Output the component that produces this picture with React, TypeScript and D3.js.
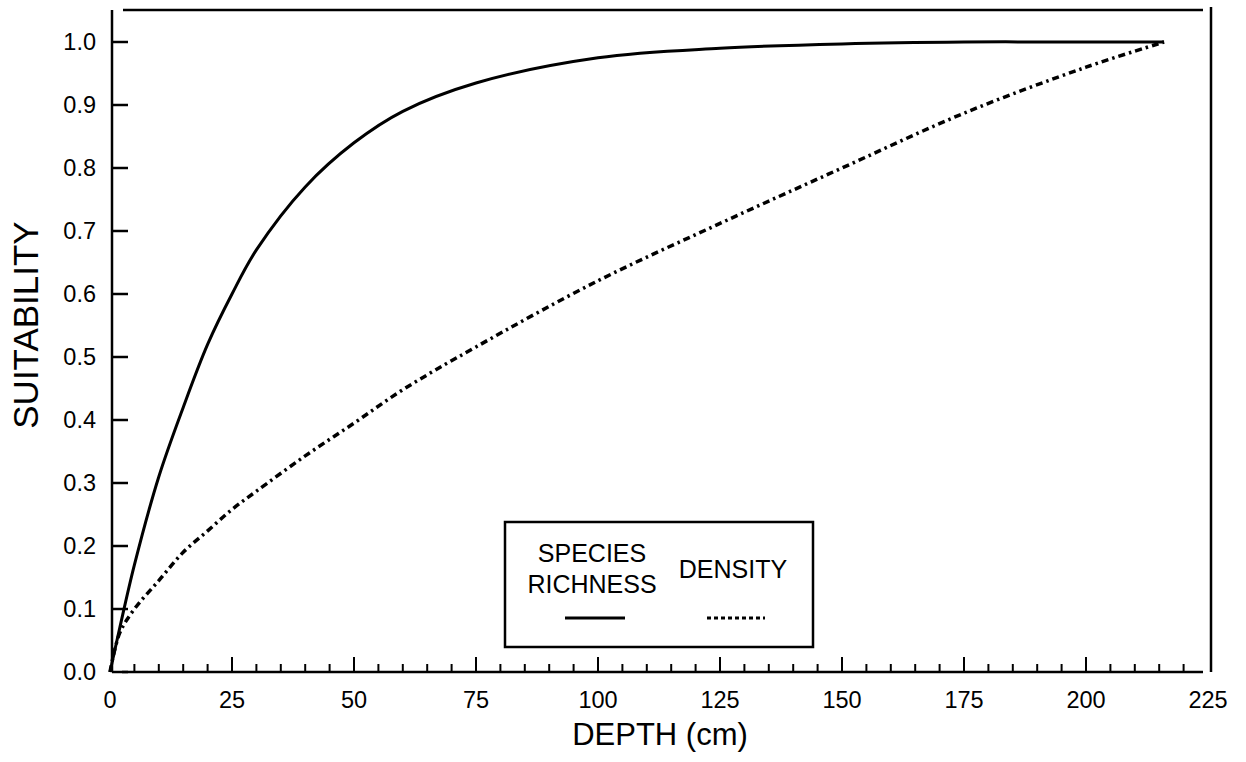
import React from "react";
import * as d3 from "d3";

const depths = [0, 2, 5, 10, 15, 20, 25, 30, 40, 50, 60, 75, 100, 125, 150, 175, 200, 216];
const richness = [0, 0.07, 0.17, 0.31, 0.42, 0.52, 0.6, 0.67, 0.77, 0.84, 0.89, 0.935, 0.975, 0.99, 0.997, 1.0, 1.0, 1.0];
const density = [0, 0.062, 0.1, 0.145, 0.19, 0.224, 0.258, 0.287, 0.343, 0.395, 0.448, 0.516, 0.621, 0.712, 0.8, 0.887, 0.96, 1.0];
const xTicks = [0, 25, 50, 75, 100, 125, 150, 175, 200, 225];
const xMinor = d3.range(5, 225, 5);
const yTicks = [0, 0.1, 0.2, 0.3, 0.4, 0.5, 0.6, 0.7, 0.8, 0.9, 1.0];

const FONT = "'Liberation Sans', Arial, Helvetica, sans-serif";

export default function App() {
  const x = d3.scaleLinear().domain([0, 225]).range([110, 1208]);
  const y = d3.scaleLinear().domain([0, 1]).range([672, 42]);
  const line = d3
    .line<number>()
    .x((_, i) => x(depths[i]))
    .y((v) => y(v))
    .curve(d3.curveCatmullRom.alpha(0.5));

  const axL = x(0) + 2;
  const axR = x(225) + 3;
  const top = 10;
  const bottom = y(0);

  return (
    <svg
      width={1246}
      height={762}
      style={{ position: "absolute", left: 0, top: 0, background: "#fff" }}
      fontFamily={FONT}
    >
      {/* frame */}
      <g stroke="#000" strokeWidth={2.5} fill="none">
        <line x1={axL} y1={top} x2={axL} y2={bottom} />
        <line x1={axL + 10} y1={bottom} x2={axR - 8} y2={bottom} />
        <line x1={axL + 11} y1={top} x2={axR - 8} y2={top} />
        <line x1={axR} y1={top - 3} x2={axR} y2={bottom} />
      </g>
      {/* y ticks */}
      <g stroke="#000" strokeWidth={2.5}>
        {yTicks.map((t) => (
          <line key={t} x1={axL} x2={axL + 16} y1={y(t)} y2={y(t)} />
        ))}
      </g>
      {/* x ticks */}
      <g stroke="#000" strokeWidth={2}>
        {xMinor.map((t) => (
          <line key={t} x1={x(t)} x2={x(t)} y1={bottom} y2={bottom - (t % 25 === 0 ? 15 : 8)} />
        ))}
      </g>
      {/* tick labels */}
      <g fontSize={23.5} fill="#000">
        {yTicks.map((t) => (
          <text key={t} x={96} y={y(t) + 8} textAnchor="end">
            {t.toFixed(1)}
          </text>
        ))}
        {xTicks.map((t) => (
          <text key={t} x={x(t)} y={708} textAnchor="middle">
            {t}
          </text>
        ))}
      </g>
      {/* axis titles */}
      <text x={660} y={745} textAnchor="middle" fontSize={31}>
        DEPTH (cm)
      </text>
      <text
        transform={`translate(37.5, 325) rotate(-90)`}
        textAnchor="middle"
        fontSize={35}
      >
        SUITABILITY
      </text>
      {/* curves */}
      <path d={line(richness) || ""} fill="none" stroke="#000" strokeWidth={3} />
      <path
        d={line(density) || ""}
        fill="none"
        stroke="#000"
        strokeWidth={3.5}
        strokeDasharray="7,4,2.5,4"
      />
      {/* legend */}
      <rect x={505} y={522} width={308} height={125} fill="#fff" stroke="#000" strokeWidth={2.5} />
      <g fontSize={25} textAnchor="middle">
        <text x={592} y={562}>SPECIES</text>
        <text x={592} y={593}>RICHNESS</text>
        <text x={733} y={578}>DENSITY</text>
      </g>
      <line x1={565} x2={625} y1={618} y2={618} stroke="#000" strokeWidth={3} />
      <line x1={707} x2={765} y1={618} y2={618} stroke="#000" strokeWidth={3} strokeDasharray="4,3" />
    </svg>
  );
}
